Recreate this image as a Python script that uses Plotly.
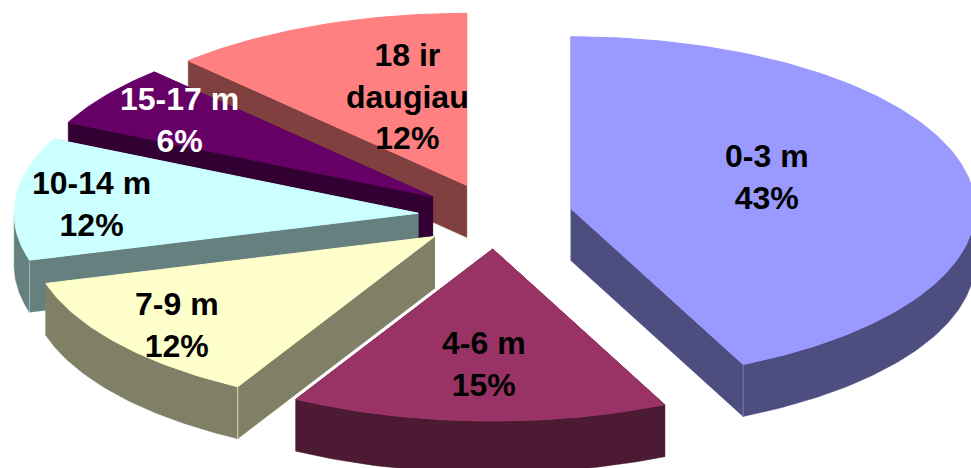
import math
import plotly.graph_objs as go

# slices, clockwise from twelve o'clock
categories = ['0-3 m', '4-6 m', '7-9 m', '10-14 m', '15-17 m', '18 ir<br>daugiau']
values = [43.0, 15.1, 12.5, 11.5, 5.8, 12.1]
percent_labels = ['43%', '15%', '12%', '12%', '6%', '12%']
top_colors = ['#9999FF', '#993366', '#FFFFCC', '#CCFFFF', '#660066', '#FF8080']
side_colors = ['#4D4D80', '#4D1A33', '#808066', '#668080', '#330033', '#804040']
label_colors = ['black', 'black', 'black', 'black', 'white', 'black']
label_x = [767, 484, 177, 91, 179, 407]
label_y = [177, 364, 325, 204, 120, 96]

WIDTH = 971
HEIGHT = 468
CENTER_X = 495.4
CENTER_Y = 216
RADIUS_X = 404
RADIUS_Y = 172
EXPLODE = 0.192
DEPTH = 52

# back slices first so the front ones paint over them
DRAW_ORDER = [5, 4, 3, 2, 1, 0]
# corner seam on the rim: slice index -> which end of its arc
SEAMS = {0: 'end', 2: 'start', 3: 'start'}
SEAM_COLORS = {0: '#7A7AC0', 2: '#D8D8B8', 3: '#9AB8B8'}


def slice_geometry(start_pct, value):
    start = start_pct / 100 * 2 * math.pi
    end = (start_pct + value) / 100 * 2 * math.pi
    mid = (start + end) / 2
    apex_x = CENTER_X + EXPLODE * RADIUS_X * math.sin(mid)
    apex_y = CENTER_Y - EXPLODE * RADIUS_Y * math.cos(mid)
    steps = max(int(value * 4), 8)
    arc_x = []
    arc_y = []
    for i in range(steps + 1):
        angle = start + (end - start) * i / steps
        arc_x.append(apex_x + RADIUS_X * math.sin(angle))
        arc_y.append(apex_y - RADIUS_Y * math.cos(angle))
    return apex_x, apex_y, arc_x, arc_y


def side_polygons(apex_x, apex_y, arc_x, arc_y):
    # plotly fills overlapping parts of one path as holes, so each face is
    # its own polygon; only the front half of the rim is ever visible
    polygons = []
    front = [i for i in range(len(arc_x)) if arc_y[i] >= apex_y]
    if front:
        rim_x = [arc_x[i] for i in front]
        rim_y = [arc_y[i] for i in front]
        polygons.append((rim_x + rim_x[::-1] + rim_x[:1],
                         rim_y + [y + DEPTH for y in rim_y[::-1]] + rim_y[:1]))
    for end_x, end_y in [(arc_x[0], arc_y[0]), (arc_x[-1], arc_y[-1])]:
        polygons.append(([apex_x, end_x, end_x, apex_x, apex_x],
                         [apex_y, end_y, end_y + DEPTH, apex_y + DEPTH, apex_y]))
    return polygons


starts = []
running = 0
for value in values:
    starts.append(running)
    running += value

fig = go.Figure()
for idx in DRAW_ORDER:
    apex_x, apex_y, arc_x, arc_y = slice_geometry(starts[idx], values[idx])
    for side_x, side_y in side_polygons(apex_x, apex_y, arc_x, arc_y):
        fig.add_trace(go.Scatter(x=side_x, y=side_y, mode='lines', fill='toself',
                                 fillcolor=side_colors[idx],
                                 line=dict(color=side_colors[idx], width=0.5),
                                 hoverinfo='skip', showlegend=False))
    fig.add_trace(go.Scatter(x=[apex_x] + arc_x + [apex_x],
                             y=[apex_y] + arc_y + [apex_y],
                             mode='lines', fill='toself',
                             fillcolor=top_colors[idx],
                             line=dict(color=top_colors[idx], width=1),
                             name=categories[idx].replace('<br>', ' '),
                             showlegend=False))
    if idx in SEAMS:
        k = 0 if SEAMS[idx] == 'start' else -1
        fig.add_trace(go.Scatter(x=[arc_x[k], arc_x[k]],
                                 y=[arc_y[k], arc_y[k] + DEPTH],
                                 mode='lines',
                                 line=dict(color=SEAM_COLORS[idx], width=1),
                                 hoverinfo='skip', showlegend=False))

annotations = []
for idx in range(len(categories)):
    text = categories[idx] + '<br>' + percent_labels[idx]
    annotations.append(dict(x=label_x[idx], y=label_y[idx], xref='x', yref='y',
                            text='<b>' + text.replace('<br>', '</b><br><b>') + '</b>',
                            showarrow=False, align='center',
                            font=dict(family='Liberation Sans', size=32,
                                      color=label_colors[idx])))

fig.update_layout(width=WIDTH, height=HEIGHT,
                  margin=dict(l=0, r=0, t=0, b=0),
                  paper_bgcolor='white', plot_bgcolor='white',
                  xaxis=dict(range=[0, WIDTH], visible=False, fixedrange=True),
                  yaxis=dict(range=[HEIGHT, 0], visible=False, fixedrange=True),
                  annotations=annotations)

fig.write_html("out.html", config={'displayModeBar': False},
               post_script="document.body.style.margin='0';")
